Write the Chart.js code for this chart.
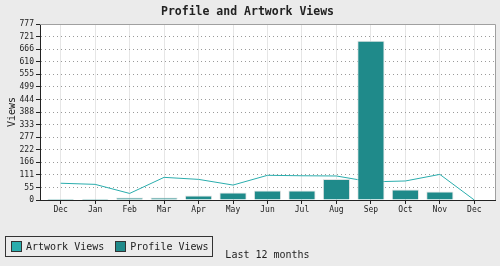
<!DOCTYPE html>
<html>
<head>
<meta charset="utf-8">
<script src="https://cdn.jsdelivr.net/npm/chart.js@4/dist/chart.umd.min.js"></script>
<style>
  html, body { margin: 0; padding: 0; background: #ebebeb; }
  #wrap { position: relative; width: 500px; height: 266px; }
  #legend {
    position: absolute; left: 5px; top: 236px; width: 206px; height: 19px;
    border: 1px solid #333; background: transparent;
    font: 10px "DejaVu Sans Mono", monospace; color: #222;
    display: flex; align-items: center; box-sizing: content-box; white-space: nowrap;
  }
  #legend .item { display: flex; align-items: center; margin-left: 5px; margin-right: 6px; flex: 0 0 auto; }
  #legend .sw { width: 9px; height: 9px; border: 1px solid #333; margin-right: 4px; flex: 0 0 auto; }
</style>
</head>
<body>
<div id="wrap">
  <canvas id="c" width="500" height="266"></canvas>
  <div id="legend"></div>
</div>
<script>
const categories = ['Dec', 'Jan', 'Feb', 'Mar', 'Apr', 'May', 'Jun', 'Jul', 'Aug', 'Sep', 'Oct', 'Nov', 'Dec'];
const artworkViews = [74, 69, 29, 100, 91, 66, 109, 107, 106, 80, 84, 113, 0];
const profileViews = [6, 6, 11, 11, 20, 33, 42, 42, 93, 703, 46, 37, 0];
const yTickValues = [0, 55.5, 111, 166.5, 222, 277.5, 333, 388.5, 444, 499.5, 555, 610.5, 666, 721.5, 777];
const yTickLabels = ['0', '55', '111', '166', '222', '277', '333', '388', '444', '499', '555', '610', '666', '721', '777'];
const seriesNames = ['Artwork Views', 'Profile Views'];
const seriesColors = ['#2aadad', '#1f8a8a'];

const FONT = '"DejaVu Sans Mono", monospace';

const plotBg = {
  id: 'plotBg',
  beforeDraw(chart) {
    const {ctx, chartArea: a} = chart;
    ctx.save();
    ctx.fillStyle = '#ffffff';
    ctx.fillRect(a.left, a.top, a.right - a.left, a.bottom - a.top);
    ctx.restore();
  },
  afterDraw(chart) {
    const {ctx, chartArea: a} = chart;
    ctx.save();
    ctx.strokeStyle = '#a0a0a0';
    ctx.lineWidth = 1;
    ctx.beginPath();
    ctx.moveTo(a.left, Math.round(a.top) + 0.5);
    ctx.lineTo(Math.round(a.right) + 0.5, Math.round(a.top) + 0.5);
    ctx.lineTo(Math.round(a.right) + 0.5, a.bottom);
    ctx.stroke();
    ctx.restore();
  }
};

new Chart(document.getElementById('c'), {
  type: 'bar',
  data: {
    labels: categories,
    datasets: [
      {
        type: 'line',
        label: seriesNames[0],
        data: artworkViews,
        borderColor: seriesColors[0],
        backgroundColor: seriesColors[0],
        borderWidth: 1,
        pointRadius: 0,
        tension: 0,
        order: 2
      },
      {
        type: 'bar',
        label: seriesNames[1],
        data: profileViews,
        backgroundColor: seriesColors[1],
        borderColor: '#e4e4e4',
        borderWidth: 1,
        barPercentage: 0.79,
        categoryPercentage: 1,
        order: 1
      }
    ]
  },
  options: {
    responsive: false,
    animation: false,
    devicePixelRatio: 1,
    layout: { padding: { left: 0, right: 5, top: 0, bottom: 0 } },
    plugins: {
      legend: { display: false },
      tooltip: { enabled: false },
      title: {
        display: true,
        text: 'Profile and Artwork Views',
        color: '#222',
        font: { family: FONT, size: 11.5, weight: 'bold' },
        padding: { top: 5, bottom: 5.2 }
      }
    },
    scales: {
      x: {
        type: 'category',
        offset: false,
        afterBuildTicks(scale) {
          scale._startValue = -0.6;
          scale._valueRange = categories.length - 1 + 1.2;
        },
        afterFit(scale) { scale.height = 66; },
        grid: {
          offset: false,
          color: '#e6e6e6',
          lineWidth: 1,
          drawTicks: true,
          tickLength: 4,
          tickColor: '#222'
        },
        border: { color: '#222', width: 1 },
        ticks: {
          color: '#222',
          font: { family: FONT, size: 8 },
          padding: 1,
          maxRotation: 0,
          autoSkip: false
        },
        title: {
          display: true,
          text: 'Last 12 months',
          color: '#222',
          font: { family: FONT, size: 10 },
          padding: { top: 0, bottom: 5 }
        }
      },
      y: {
        min: 0,
        max: 777,
        afterBuildTicks(scale) {
          scale.ticks = yTickValues.map(v => ({ value: v }));
        },
        afterFit(scale) { scale.width = 40; },
        grid: {
          color: (ctx) => (ctx.tick && ctx.tick.value === 777) ? 'rgba(0,0,0,0)' : '#9a9a9a',
          tickBorderDash: [],
          tickLength: 4,
          tickColor: '#222',
          drawTicks: true
        },
        border: { color: '#222', width: 1, dash: [1, 3] },
        ticks: {
          color: '#222',
          font: { family: FONT, size: 8 },
          padding: 2,
          autoSkip: false,
          callback: (value, index) => yTickLabels[index]
        },
        title: {
          display: true,
          text: 'Views',
          color: '#222',
          font: { family: FONT, size: 10 },
          padding: { top: 6, bottom: 0 }
        }
      }
    }
  },
  plugins: [plotBg]
});

const legend = document.getElementById('legend');
seriesNames.forEach((name, i) => {
  const item = document.createElement('div');
  item.className = 'item';
  const sw = document.createElement('span');
  sw.className = 'sw';
  sw.style.background = seriesColors[i];
  const tx = document.createElement('span');
  tx.textContent = name;
  item.appendChild(sw);
  item.appendChild(tx);
  legend.appendChild(item);
});
</script>
</body>
</html>
